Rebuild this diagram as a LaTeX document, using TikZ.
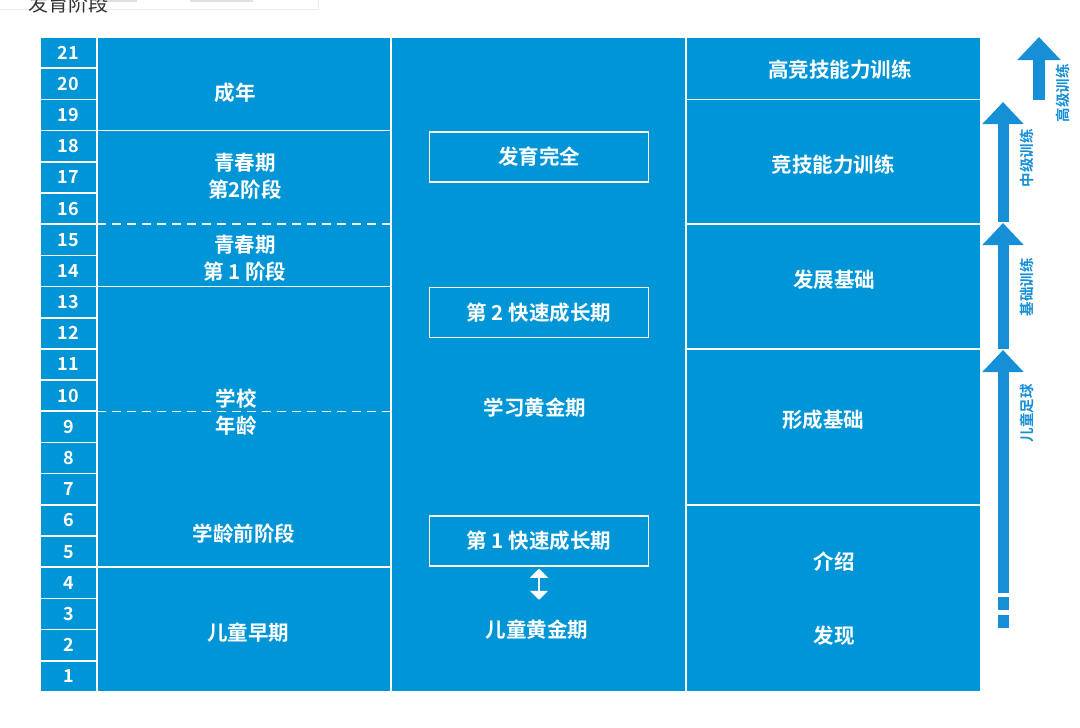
\documentclass[tikz,border=0pt]{standalone}
\usepackage{fontspec}
\setmainfont{Noto Sans CJK SC}[BoldFont=* Bold]
\usetikzlibrary{arrows.meta}
\definecolor{stageblue}{RGB}{0,149,214}
\definecolor{arrowblue}{RGB}{22,143,214}
\tikzset{
  cell/.style={draw=white, line width=1.6pt, fill=stageblue, inner sep=0pt, outer sep=0pt, anchor=north west},
  agecell/.style={cell, minimum width=57pt, minimum height=31.19pt, text=white, font=\fontsize{18}{20}\selectfont\bfseries},
  phasebox/.style={draw=white, line width=1.5pt, minimum width=219pt, minimum height=50pt, text=white, font=\fontsize{20.5}{22}\selectfont\bfseries},
  txt/.style={text=white, align=center, font=\fontsize{20.5}{27}\selectfont\bfseries, inner sep=1pt},
  divide/.style={draw=white, line width=1.5pt, dash pattern=on 9pt off 6pt},
  twoway/.style={draw=white, line width=2pt, {Triangle[width=18pt,length=9pt]}-{Triangle[width=18pt,length=9pt]}},
  stagearrow/.style={draw=arrowblue, line width=11pt, -{Triangle[width=40pt,length=22pt]}},
  stagetext/.style={text=arrowblue, rotate=90, font=\fontsize{14.5}{16}\selectfont\bfseries, inner sep=0pt},
}
\begin{document}
\begin{tikzpicture}[x=1pt,y=-1pt]
    \useasboundingbox (0,0) rectangle (1080,728);
    \fill[white] (0,0) rectangle (1080,728);
    % page residue at the top
    \fill[black!12] (95,0) rectangle (137,1.5);
    \fill[black!12] (190,0) rectangle (253,1.5);
    \draw[black!8] (0,9.5) -- (318,9.5) -- (318,0);
    \node[font=\fontsize{20}{20}\selectfont, text=black!80] (title) at (68,4) {发育阶段};
    % age scale
    \foreach \n in {1,...,21}
        \node[agecell] (age\n) at (40,{37+(21-\n)*31.19}) {\n};
    % development stages
    \node[cell, minimum width=294pt, minimum height=93.57pt] (adult) at (97,37) {};
    \node[cell, minimum width=294pt, minimum height=155.95pt] (youth) at (97,130.57) {};
    \node[cell, minimum width=294pt, minimum height=280.71pt] (school) at (97,286.52) {};
    \node[cell, minimum width=294pt, minimum height=124.76pt] (early) at (97,567.24) {};
    \draw[divide] (youth.west |- age16.south) -- (youth.east |- age16.south);
    \draw[divide] (school.west |- age10.south) -- (school.east |- age10.south);
    \node[txt] (adulttext) at (235,93) {成年};
    \node[txt] (youth2) at (245,176) {青春期\\第2阶段};
    \node[txt] (youth1) at (245,258) {青春期\\第 1 阶段};
    \node[txt] (schooltext) at (236,412) {学校\\年龄};
    \node[txt] (preschool) at (244,534) {学龄前阶段};
    \node[txt] (earlytext) at (248,633) {儿童早期};
    % growth
    \node[cell, minimum width=295pt, minimum height=655pt] (middle) at (391,37) {};
    \node[phasebox] (mature) at (539,157) {发育完全};
    \node[phasebox] (fast2) at (539,312.5) {第 2 快速成长期};
    \node[txt] (goldlearn) at (535,408) {学习黄金期};
    \node[phasebox] (fast1) at (539,541) {第 1 快速成长期};
    \node[txt] (goldchild) at (537,630) {儿童黄金期};
    \draw[twoway] ([yshift=-2pt]fast1.south) -- ++(0,31);
    % training
    \node[cell, minimum width=295pt, minimum height=62.38pt] (elite) at (686,37) {};
    \node[cell, minimum width=295pt, minimum height=124.76pt] (compete) at (686,99.38) {};
    \node[cell, minimum width=295pt, minimum height=124.76pt] (develop) at (686,224.14) {};
    \node[cell, minimum width=295pt, minimum height=155.95pt] (form) at (686,348.9) {};
    \node[cell, minimum width=295pt, minimum height=187.15pt] (intro) at (686,504.85) {};
    \node[txt] (elitetext) at (840,70) {高竞技能力训练};
    \node[txt] (competetext) at (833,165) {竞技能力训练};
    \node[txt] (developtext) at (834,280) {发展基础};
    \node[txt] (formtext) at (823,420) {形成基础};
    \node[txt] (introtext) at (834,562) {介绍};
    \node[txt] (findtext) at (834,636) {发现};
    % levels
    \draw[stagearrow] (1003,593) -- (1003,350);
    \fill[arrowblue] (997.5,597) rectangle (1008.5,610);
    \fill[arrowblue] (997.5,615) rectangle (1008.5,628);
    \draw[stagearrow] (1003,349) -- (1003,223);
    \draw[stagearrow] (1003,222) -- (1003,102);
    \draw[stagearrow, line width=12pt, -{Triangle[width=42pt,length=23pt]}] (1039,100) -- (1039,37);
    \node[stagetext] (kids) at (1027,413) {儿童足球};
    \node[stagetext] (basic) at (1027,287) {基础训练};
    \node[stagetext] (middlelevel) at (1027,158) {中级训练};
    \node[stagetext] (toplevel) at (1063,93) {高级训练};
\end{tikzpicture}
\end{document}
